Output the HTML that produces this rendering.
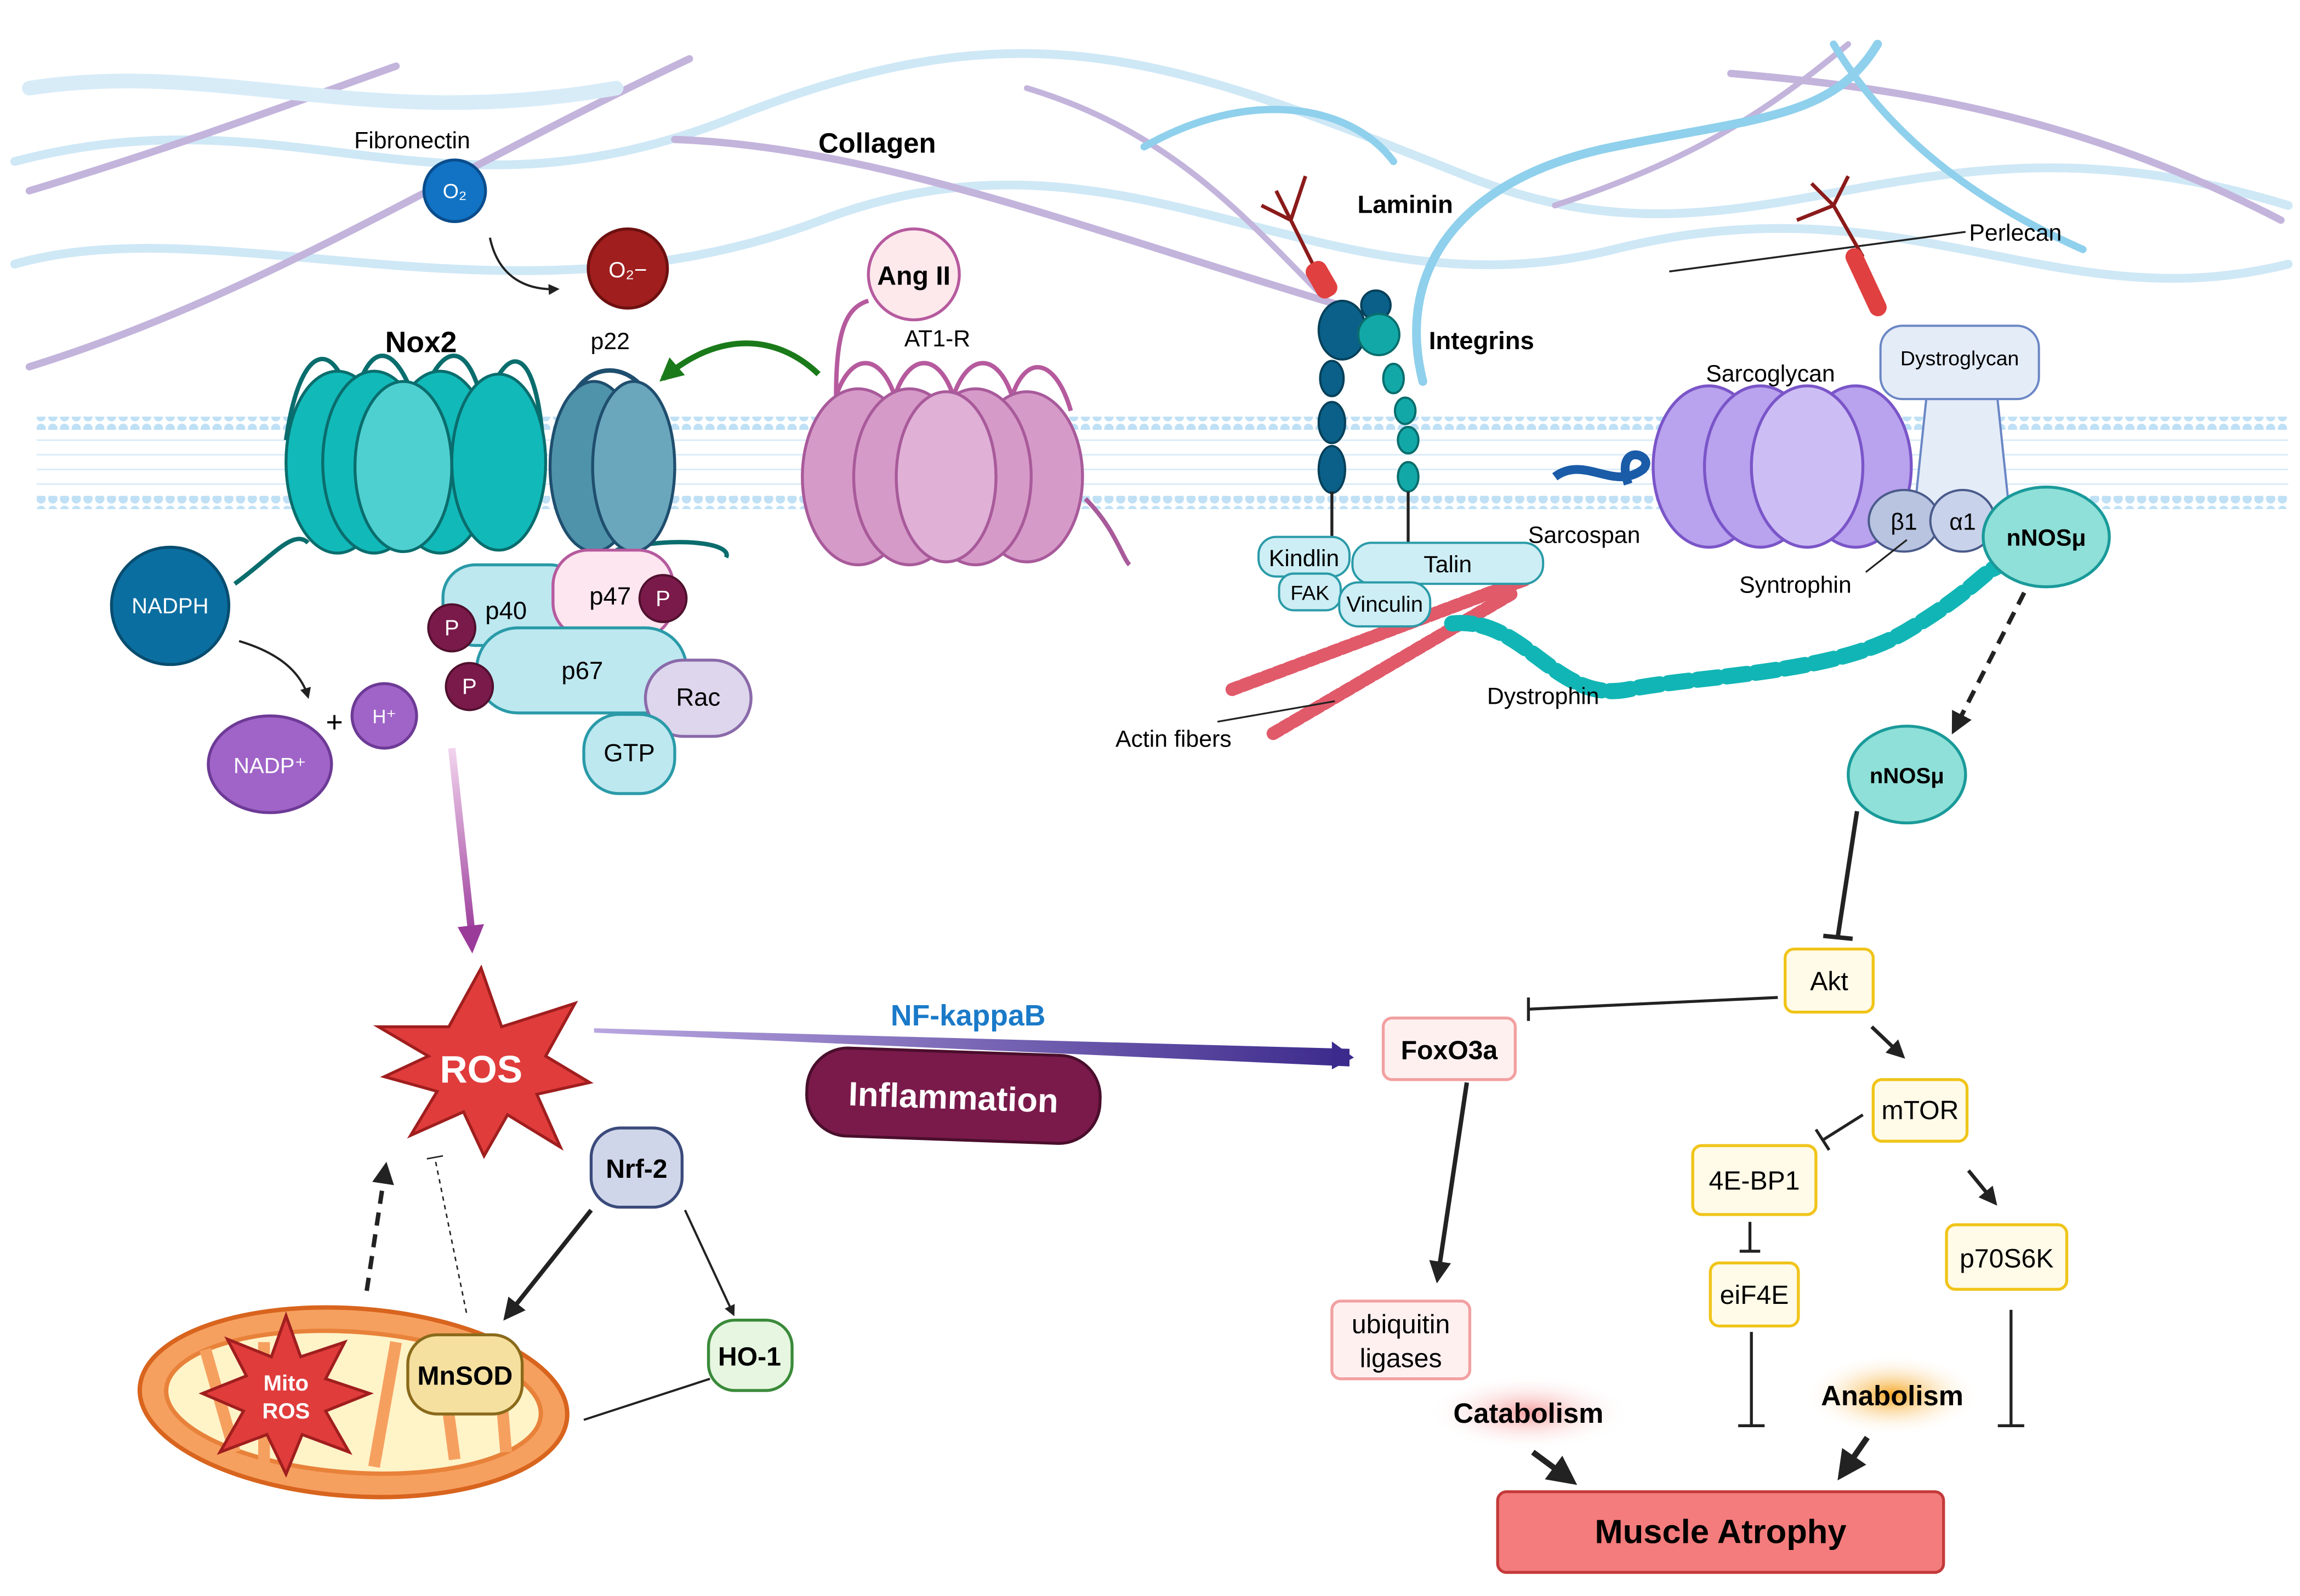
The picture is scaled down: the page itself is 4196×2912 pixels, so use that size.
<!DOCTYPE html>
<html><head><meta charset="utf-8"><style>
html,body{margin:0;padding:0;background:#fff;}
svg{display:block;}
text{font-family:"Liberation Sans",sans-serif;}
</style></head><body>
<svg width="4196" height="2912" viewBox="0 0 1568 1088" xmlns="http://www.w3.org/2000/svg">
<defs>
<marker id="ah" viewBox="0 0 10 10" refX="8" refY="5" markerWidth="5" markerHeight="5" orient="auto"><path d="M0,0 L10,5 L0,10 z" fill="#222"/></marker>
<marker id="ahg" viewBox="0 0 10 10" refX="8" refY="5" markerWidth="4" markerHeight="4" orient="auto"><path d="M0,0 L10,5 L0,10 z" fill="#1a7a1a"/></marker>
<linearGradient id="nf" x1="0" x2="1"><stop offset="0" stop-color="#b9a6e0"/><stop offset="1" stop-color="#3c2a8c"/></linearGradient>
<linearGradient id="ros" x1="0" y1="0" x2="0" y2="1"><stop offset="0" stop-color="#f2d5ee"/><stop offset="1" stop-color="#9a3b9a"/></linearGradient>
<radialGradient id="cat"><stop offset="0" stop-color="#f6a0a0"/><stop offset="1" stop-color="#fff" stop-opacity="0"/></radialGradient>
<radialGradient id="ana"><stop offset="0" stop-color="#f5a623"/><stop offset="1" stop-color="#fff" stop-opacity="0"/></radialGradient>
<pattern id="lip" width="8" height="8" patternUnits="userSpaceOnUse"><circle cx="4" cy="4" r="3.2" fill="#bfe0f5"/></pattern>
</defs>
<rect width="1568" height="1088" fill="#fff"/>
<g fill="none" stroke-linecap="round">
<path d="M10,110 C200,60 300,160 500,80 S800,40 1000,120 S1300,60 1560,140" stroke="#cfe8f6" stroke-width="6"/>
<path d="M10,180 C150,140 350,230 560,150 S900,220 1100,170 S1400,220 1560,180" stroke="#cfe8f6" stroke-width="6"/>
<path d="M20,250 C180,200 300,120 470,40" stroke="#c3b4dc" stroke-width="5"/>
<path d="M20,130 C120,100 200,70 270,45" stroke="#c3b4dc" stroke-width="5"/>
<path d="M460,95 C600,100 750,160 920,210" stroke="#c3b4dc" stroke-width="5"/>
<path d="M700,60 C800,90 850,150 900,200" stroke="#c3b4dc" stroke-width="4"/>
<path d="M1060,140 C1150,110 1200,80 1260,30" stroke="#c3b4dc" stroke-width="4"/>
<path d="M1180,50 C1300,60 1420,80 1555,150" stroke="#c3b4dc" stroke-width="5"/>
<path d="M20,60 C150,40 250,90 420,60" stroke="#d8ecf8" stroke-width="10"/>
<path d="M780,100 C850,60 920,70 950,110" stroke="#8fd0ec" stroke-width="5"/>
<path d="M970,260 C950,180 1000,120 1100,100 S1250,80 1280,30" stroke="#8fd0ec" stroke-width="6"/>
<path d="M1250,30 C1280,80 1330,130 1420,170" stroke="#8fd0ec" stroke-width="5"/>
</g>
<rect x="25" y="284" width="1535" height="9" fill="url(#lip)"/>
<rect x="25" y="338" width="1535" height="9" fill="url(#lip)"/>
<g stroke="#d6ebf7" stroke-width="1"><path d="M25,300 H1560 M25,310 H1560 M25,320 H1560 M25,330 H1560"/></g>

<text x="281" y="101" font-size="16" text-anchor="middle">Fibronectin</text>
<circle cx="310" cy="130" r="21" fill="#1273c4" stroke="#0a4d8c" stroke-width="2"/>
<text x="310" y="135" font-size="14" fill="#fff" text-anchor="middle">O₂</text>
<path d="M334,162 C340,190 360,198 380,197" fill="none" stroke="#222" stroke-width="1.5" marker-end="url(#ah)"/>
<circle cx="428" cy="183" r="27" fill="#a01e1e" stroke="#6d1010" stroke-width="2"/>
<text x="428" y="189" font-size="15" fill="#fff" text-anchor="middle">O₂−</text>
<text x="598" y="104" font-size="19" font-weight="bold" text-anchor="middle">Collagen</text>
<text x="958" y="145" font-size="17" font-weight="bold" text-anchor="middle">Laminin</text>
<text x="1010" y="238" font-size="17" font-weight="bold" text-anchor="middle">Integrins</text>
<text x="1374" y="164" font-size="16" text-anchor="middle">Perlecan</text>
<line x1="1138" y1="185" x2="1340" y2="158" stroke="#222" stroke-width="1.3"/>

<text x="287" y="240" font-size="20" font-weight="bold" text-anchor="middle">Nox2</text>
<text x="416" y="238" font-size="16" text-anchor="middle">p22</text>
<g stroke="#0a6d6d" stroke-width="2" fill="#12b9b9">
<path d="M195,300 C205,230 230,230 240,280 C250,230 270,230 285,280 C300,230 320,230 330,280 C345,230 365,235 370,300" fill="none" stroke-width="3"/>
<ellipse cx="230" cy="315" rx="35" ry="62"/>
<ellipse cx="255" cy="315" rx="35" ry="62"/>
<ellipse cx="300" cy="315" rx="35" ry="62"/>
<ellipse cx="340" cy="315" rx="32" ry="60"/>
<ellipse cx="275" cy="318" rx="33" ry="58" fill="#4fd0d0"/>
</g>
<path d="M160,398 C185,380 200,360 210,370" fill="none" stroke="#0a6d6d" stroke-width="3"/>
<path d="M420,375 C460,365 500,370 495,380" fill="none" stroke="#0a6d6d" stroke-width="3"/>
<g stroke="#1f4e6e" stroke-width="2" fill="#4f93aa">
<path d="M385,290 C390,240 440,240 450,290" fill="none" stroke-width="3"/>
<ellipse cx="405" cy="318" rx="30" ry="58"/>
<ellipse cx="432" cy="318" rx="28" ry="58" fill="#6aa7bd"/>
</g>
<path d="M558,255 C530,228 490,225 452,258" fill="none" stroke="#1a7a1a" stroke-width="4" marker-end="url(#ahg)"/>
<text x="639" y="236" font-size="16" text-anchor="middle">AT1-R</text>
<circle cx="623" cy="187" r="31" fill="#fde8ec" stroke="#b65a9e" stroke-width="2"/>
<text x="623" y="194" font-size="18" font-weight="bold" text-anchor="middle">Ang II</text>
<path d="M570,270 C570,230 575,210 592,205" fill="none" stroke="#b65a9e" stroke-width="3"/>
<path d="M570,270 C580,240 600,240 610,270 C620,240 640,240 650,270 C660,240 680,240 690,270 C700,240 720,245 730,280" fill="none" stroke="#b65a9e" stroke-width="3"/>
<g stroke="#a85a9a" stroke-width="2" fill="#d69ac8">
<ellipse cx="585" cy="325" rx="38" ry="60"/>
<ellipse cx="620" cy="325" rx="38" ry="60"/>
<ellipse cx="700" cy="325" rx="38" ry="58"/>
<ellipse cx="665" cy="325" rx="38" ry="60"/>
<ellipse cx="645" cy="325" rx="34" ry="58" fill="#e0b0d6"/>
</g>
<path d="M740,340 C760,360 765,380 770,385" fill="none" stroke="#a85a9a" stroke-width="3"/>

<rect x="302" y="385" width="95" height="55" rx="22" fill="#bde8f0" stroke="#2a9aa8" stroke-width="2"/>
<text x="345" y="422" font-size="17" text-anchor="middle">p40</text>
<rect x="377" y="375" width="82" height="60" rx="24" fill="#fde6ef" stroke="#b65a9e" stroke-width="2"/>
<text x="416" y="412" font-size="17" text-anchor="middle">p47</text>
<rect x="325" y="428" width="143" height="58" rx="28" fill="#bde8f0" stroke="#2a9aa8" stroke-width="2"/>
<text x="397" y="463" font-size="17" text-anchor="middle">p67</text>
<rect x="440" y="450" width="72" height="52" rx="26" fill="#ddd6ec" stroke="#8a6aaa" stroke-width="2"/>
<text x="476" y="481" font-size="17" text-anchor="middle">Rac</text>
<rect x="398" y="487" width="62" height="54" rx="24" fill="#bde8f0" stroke="#2a9aa8" stroke-width="2"/>
<text x="429" y="519" font-size="17" text-anchor="middle">GTP</text>
<g fill="#7a1a4a" stroke="#50102e" stroke-width="1.5">
<circle cx="308" cy="428" r="16"/><circle cx="320" cy="468" r="16"/><circle cx="452" cy="408" r="16"/>
</g>
<g fill="#fff" font-size="15" text-anchor="middle"><text x="308" y="433">P</text><text x="320" y="473">P</text><text x="452" y="413">P</text></g>

<circle cx="116" cy="413" r="40" fill="#0b6ea0" stroke="#074d70" stroke-width="2"/>
<text x="116" y="418" font-size="15" fill="#fff" text-anchor="middle">NADPH</text>
<path d="M163,437 C190,445 205,458 210,475" fill="none" stroke="#222" stroke-width="1.5" marker-end="url(#ah)"/>
<text x="228" y="499" font-size="20" text-anchor="middle">+</text>
<circle cx="262" cy="488" r="22" fill="#a064c8" stroke="#6d3a96" stroke-width="2"/>
<text x="262" y="493" font-size="13" fill="#fff" text-anchor="middle">H⁺</text>
<ellipse cx="184" cy="521" rx="42" ry="33" fill="#a064c8" stroke="#6d3a96" stroke-width="2"/>
<text x="184" y="527" font-size="15" fill="#fff" text-anchor="middle">NADP⁺</text>

<g stroke="#8b1a1a" stroke-width="2.5" fill="none">
<path d="M880,150 L900,190 M870,130 L880,150 M890,120 L880,150 M860,140 L880,150"/>
<path d="M1250,140 L1270,175 M1235,125 L1250,140 M1260,120 L1250,140 M1225,150 L1250,140"/>
</g>
<g fill="#e04040"><rect x="893" y="178" width="15" height="26" rx="6" transform="rotate(-30 900 190)"/>
<rect x="1265" y="168" width="12" height="50" rx="6" transform="rotate(-25 1270 190)"/></g>
<g fill="#0a6088" stroke="#06405a" stroke-width="1.5">
<ellipse cx="915" cy="225" rx="16" ry="20"/><ellipse cx="938" cy="208" rx="10" ry="10"/>
<ellipse cx="908" cy="258" rx="8" ry="12"/><ellipse cx="908" cy="288" rx="9" ry="14"/><ellipse cx="908" cy="320" rx="9" ry="16"/>
</g>
<g fill="#12a8a8" stroke="#0a6d6d" stroke-width="1.5">
<ellipse cx="940" cy="228" rx="14" ry="14"/><ellipse cx="950" cy="258" rx="7" ry="10"/><ellipse cx="958" cy="280" rx="7" ry="9"/>
<ellipse cx="960" cy="300" rx="7" ry="9"/><ellipse cx="960" cy="325" rx="7" ry="10"/>
</g>
<line x1="908" y1="335" x2="908" y2="370" stroke="#222" stroke-width="2"/>
<line x1="960" y1="335" x2="960" y2="372" stroke="#222" stroke-width="2"/>
<g stroke="#e05a6a" stroke-width="9" stroke-dasharray="5 3" stroke-linecap="round">
<path d="M840,470 L1040,395"/><path d="M868,500 L1030,405"/>
</g>
<rect x="858" y="366" width="62" height="27" rx="12" fill="#cdeef4" stroke="#2a9aa8" stroke-width="1.5"/>
<text x="889" y="386" font-size="16" text-anchor="middle">Kindlin</text>
<rect x="872" y="391" width="42" height="25" rx="10" fill="#cdeef4" stroke="#2a9aa8" stroke-width="1.5"/>
<text x="893" y="409" font-size="14" text-anchor="middle">FAK</text>
<rect x="922" y="370" width="130" height="28" rx="13" fill="#cdeef4" stroke="#2a9aa8" stroke-width="1.5"/>
<text x="987" y="390" font-size="16" text-anchor="middle">Talin</text>
<rect x="913" y="397" width="62" height="30" rx="13" fill="#cdeef4" stroke="#2a9aa8" stroke-width="1.5"/>
<text x="944" y="417" font-size="15" text-anchor="middle">Vinculin</text>
<line x1="830" y1="492" x2="910" y2="478" stroke="#222" stroke-width="1.2"/>
<text x="800" y="509" font-size="16" text-anchor="middle">Actin fibers</text>
<path d="M990,425 C1040,420 1060,480 1110,470 S1250,460 1300,430 S1350,390 1365,385" fill="none" stroke="#12b5b5" stroke-width="11" stroke-dasharray="14 6" stroke-linecap="round"/>
<text x="1052" y="480" font-size="16" text-anchor="middle">Dystrophin</text>
<text x="1207" y="260" font-size="16" text-anchor="middle">Sarcoglycan</text>
<g stroke="#7a55c8" stroke-width="2" fill="#b9a2ee">
<ellipse cx="1165" cy="318" rx="38" ry="55"/><ellipse cx="1200" cy="318" rx="38" ry="55"/>
<ellipse cx="1265" cy="318" rx="38" ry="55"/><ellipse cx="1232" cy="318" rx="38" ry="55" fill="#cdbdf5"/>
</g>
<path d="M1060,325 C1080,310 1100,335 1120,320 C1130,310 1100,300 1110,330" fill="none" stroke="#1a5ca8" stroke-width="6"/>
<text x="1080" y="370" font-size="16" text-anchor="middle">Sarcospan</text>
<path d="M1315,255 L1360,255 L1370,350 L1305,350 Z" fill="#e4ecf8" stroke="#6a86c4" stroke-width="1.5"/>
<rect x="1282" y="222" width="108" height="50" rx="15" fill="#e4ecf8" stroke="#6a86c4" stroke-width="1.5"/>
<text x="1336" y="249" font-size="14" text-anchor="middle">Dystroglycan</text>
<ellipse cx="1298" cy="355" rx="24" ry="21" fill="#b8c4e0" stroke="#4a5a8a" stroke-width="1.5"/>
<text x="1298" y="361" font-size="16" text-anchor="middle">β1</text>
<ellipse cx="1338" cy="355" rx="22" ry="21" fill="#c8d2ea" stroke="#4a5a8a" stroke-width="1.5"/>
<text x="1338" y="361" font-size="16" text-anchor="middle">α1</text>
<line x1="1272" y1="390" x2="1300" y2="368" stroke="#222" stroke-width="1.2"/>
<text x="1224" y="404" font-size="16" text-anchor="middle">Syntrophin</text>
<ellipse cx="1395" cy="366" rx="43" ry="34" fill="#8fe0d8" stroke="#1a9a9a" stroke-width="2"/>
<text x="1395" y="372" font-size="16" font-weight="bold" text-anchor="middle">nNOSμ</text>
<path d="M1380,404 L1332,498" stroke="#222" stroke-width="3" stroke-dasharray="9 6" marker-end="url(#ah)"/>
<ellipse cx="1300" cy="528" rx="40" ry="33" fill="#8fe0d8" stroke="#1a9a9a" stroke-width="2"/>
<text x="1300" y="534" font-size="15" font-weight="bold" text-anchor="middle">nNOSμ</text>

<line x1="1266" y1="553" x2="1253" y2="638" stroke="#222" stroke-width="3"/>
<line x1="1243" y1="638" x2="1263" y2="640" stroke="#222" stroke-width="3"/>
<rect x="1217" y="647" width="60" height="43" rx="6" fill="#fffbe8" stroke="#f0c419" stroke-width="2"/>
<text x="1247" y="675" font-size="18" text-anchor="middle">Akt</text>
<line x1="1212" y1="680" x2="1042" y2="688" stroke="#222" stroke-width="2"/>
<line x1="1042" y1="680" x2="1042" y2="696" stroke="#222" stroke-width="2"/>
<rect x="943" y="694" width="90" height="42" rx="6" fill="#fff0f0" stroke="#f2a0a0" stroke-width="2"/>
<text x="988" y="722" font-size="18" font-weight="bold" text-anchor="middle">FoxO3a</text>
<line x1="1276" y1="700" x2="1297" y2="720" stroke="#222" stroke-width="2.5" marker-end="url(#ah)"/>
<rect x="1277" y="736" width="64" height="42" rx="6" fill="#fffbe8" stroke="#f0c419" stroke-width="2"/>
<text x="1309" y="763" font-size="18" text-anchor="middle">mTOR</text>
<line x1="1270" y1="760" x2="1243" y2="777" stroke="#222" stroke-width="2"/>
<line x1="1238" y1="770" x2="1247" y2="784" stroke="#222" stroke-width="2"/>
<rect x="1154" y="781" width="84" height="47" rx="6" fill="#fffbe8" stroke="#f0c419" stroke-width="2"/>
<text x="1196" y="811" font-size="18" text-anchor="middle">4E-BP1</text>
<line x1="1193" y1="833" x2="1193" y2="853" stroke="#222" stroke-width="2"/>
<line x1="1186" y1="853" x2="1200" y2="853" stroke="#222" stroke-width="2"/>
<rect x="1166" y="861" width="60" height="43" rx="6" fill="#fffbe8" stroke="#f0c419" stroke-width="2"/>
<text x="1196" y="889" font-size="18" text-anchor="middle">eiF4E</text>
<line x1="1342" y1="798" x2="1360" y2="820" stroke="#222" stroke-width="2.5" marker-end="url(#ah)"/>
<rect x="1327" y="835" width="82" height="44" rx="6" fill="#fffbe8" stroke="#f0c419" stroke-width="2"/>
<text x="1368" y="864" font-size="18" text-anchor="middle">p70S6K</text>
<line x1="1194" y1="908" x2="1194" y2="972" stroke="#222" stroke-width="2"/>
<line x1="1185" y1="972" x2="1203" y2="972" stroke="#222" stroke-width="2"/>
<line x1="1371" y1="893" x2="1371" y2="972" stroke="#222" stroke-width="2"/>
<line x1="1362" y1="972" x2="1380" y2="972" stroke="#222" stroke-width="2"/>
<line x1="1000" y1="738" x2="980" y2="872" stroke="#222" stroke-width="3" marker-end="url(#ah)"/>
<rect x="908" y="887" width="94" height="53" rx="6" fill="#fff0f0" stroke="#f2a0a0" stroke-width="2"/>
<text x="955" y="909" font-size="18" text-anchor="middle">ubiquitin</text>
<text x="955" y="932" font-size="18" text-anchor="middle">ligases</text>
<ellipse cx="1042" cy="963" rx="70" ry="26" fill="url(#cat)"/>
<text x="1042" y="970" font-size="19" font-weight="bold" text-anchor="middle">Catabolism</text>
<ellipse cx="1290" cy="951" rx="60" ry="28" fill="url(#ana)"/>
<text x="1290" y="958" font-size="19" font-weight="bold" text-anchor="middle">Anabolism</text>
<line x1="1045" y1="990" x2="1072" y2="1010" stroke="#222" stroke-width="4" marker-end="url(#ah)"/>
<line x1="1273" y1="980" x2="1255" y2="1006" stroke="#222" stroke-width="4" marker-end="url(#ah)"/>
<rect x="1021" y="1017" width="304" height="55" rx="6" fill="#f47c7c" stroke="#c43a3a" stroke-width="2"/>
<text x="1173" y="1052" font-size="23" font-weight="bold" text-anchor="middle">Muscle Atrophy</text>

<path d="M308,510 L322,640" stroke="url(#ros)" stroke-width="5"/>
<path d="M312,632 L322,650 L330,630 Z" fill="#9a3b9a"/>
<polygon points="328,660 342,700 392,684 372,720 402,738 366,746 382,782 346,760 330,788 316,758 280,774 298,744 262,734 292,720 258,700 306,700" fill="#e03c3c" stroke="#a01e1e" stroke-width="2"/>
<text x="328" y="738" font-size="26" font-weight="bold" fill="#fff" text-anchor="middle">ROS</text>
<polygon points="405,701 920,715 920,727 405,704" fill="url(#nf)"/>
<path d="M908,710 L923,721 L908,729 Z" fill="#3c2a8c"/>
<text x="660" y="699" font-size="20" font-weight="bold" fill="#1a7ac8" text-anchor="middle">NF-kappaB</text>
<g transform="rotate(2 650 747)">
<rect x="550" y="717" width="200" height="60" rx="28" fill="#7a1a4a" stroke="#4a0e2c" stroke-width="2"/>
<text x="650" y="756" font-size="23" font-weight="bold" fill="#fff" text-anchor="middle">Inflammation</text>
</g>
<rect x="403" y="769" width="62" height="54" rx="20" fill="#d0d6ea" stroke="#3a4a7a" stroke-width="2"/>
<text x="434" y="803" font-size="18" font-weight="bold" text-anchor="middle">Nrf-2</text>
<line x1="403" y1="825" x2="345" y2="898" stroke="#222" stroke-width="3" marker-end="url(#ah)"/>
<line x1="467" y1="825" x2="500" y2="896" stroke="#222" stroke-width="1.5" marker-end="url(#ah)"/>
<rect x="483" y="900" width="57" height="48" rx="18" fill="#e6f6e0" stroke="#3a8a3a" stroke-width="2"/>
<text x="511" y="931" font-size="18" font-weight="bold" text-anchor="middle">HO-1</text>
<line x1="484" y1="940" x2="398" y2="968" stroke="#222" stroke-width="1.5"/>
<ellipse cx="241" cy="956" rx="146" ry="64" transform="rotate(4 241 956)" fill="#f6a060" stroke="#d8641e" stroke-width="3"/>
<ellipse cx="241" cy="956" rx="128" ry="48" transform="rotate(4 241 956)" fill="#fff3c8" stroke="#e8823a" stroke-width="3"/>
<path d="M140,920 L160,990 M180,915 L180,1000 M270,915 L255,1000 M300,920 L310,995 M340,930 L345,990" stroke="#f6a060" stroke-width="8"/>
<polygon points="195,897 205,925 235,915 222,940 252,950 222,962 238,990 206,978 195,1005 182,978 150,990 166,962 138,950 168,938 155,913 185,925" fill="#e03c3c" stroke="#a01e1e" stroke-width="2"/>
<text x="195" y="948" font-size="15" font-weight="bold" fill="#fff" text-anchor="middle">Mito</text>
<text x="195" y="967" font-size="15" font-weight="bold" fill="#fff" text-anchor="middle">ROS</text>
<rect x="278" y="910" width="78" height="54" rx="20" fill="#f5e0a0" stroke="#8a6a1a" stroke-width="2"/>
<text x="317" y="944" font-size="18" font-weight="bold" text-anchor="middle">MnSOD</text>
<line x1="250" y1="880" x2="263" y2="795" stroke="#222" stroke-width="3" stroke-dasharray="9 6" marker-end="url(#ah)"/>
<line x1="318" y1="895" x2="297" y2="792" stroke="#222" stroke-width="1" stroke-dasharray="3 3"/>
<line x1="291" y1="790" x2="302" y2="788" stroke="#222" stroke-width="1"/>
</svg>
</body></html>
